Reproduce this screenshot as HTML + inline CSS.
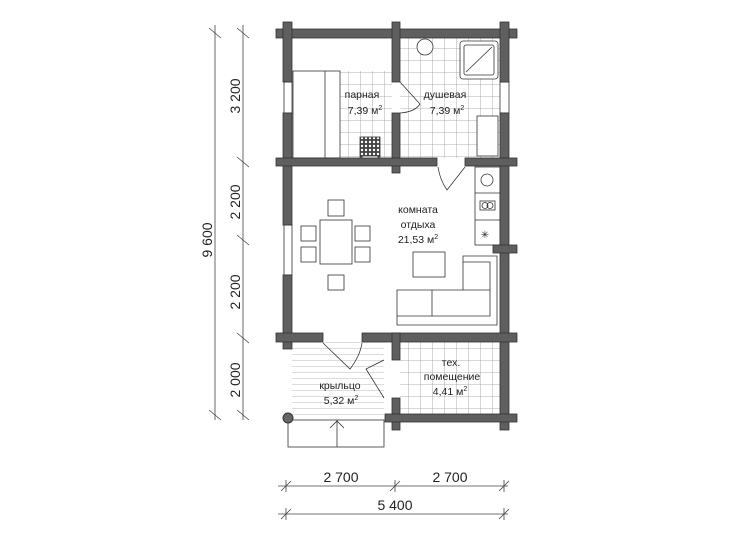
<!DOCTYPE html>
<html><head><meta charset="utf-8"><style>
html,body{margin:0;padding:0;background:#fff;width:732px;height:549px;overflow:hidden}
svg{display:block}
text{font-family:"Liberation Sans",sans-serif;fill:#222}
</style></head><body>
<svg width="732" height="549" viewBox="0 0 732 549" xmlns="http://www.w3.org/2000/svg">
<defs>
<pattern id="tile" width="12" height="12" patternUnits="userSpaceOnUse">
<rect width="12" height="12" fill="#fff"/><path d="M0 0H12M0 0V12" stroke="#999" stroke-width="0.8"/>
</pattern>
<pattern id="stripe" width="10" height="6" patternUnits="userSpaceOnUse">
<rect width="10" height="6" fill="#fff"/><path d="M0 0H10" stroke="#999" stroke-width="0.7"/>
</pattern>
<pattern id="stones" width="4" height="4" patternUnits="userSpaceOnUse">
<rect width="4" height="4" fill="#444"/><circle cx="2" cy="2" r="1.2" fill="#fff"/>
</pattern>
</defs>
<rect x="340" y="71" width="52" height="87" fill="url(#tile)"/>
<rect x="400" y="38" width="100" height="120" fill="url(#tile)"/>
<rect x="400" y="342" width="100" height="72" fill="url(#tile)"/>
<rect x="292" y="342" width="92" height="78" fill="url(#stripe)"/>
<g stroke="#333" fill="none" stroke-width="0.8">
<rect x="293" y="71" width="47" height="87" fill="#fff"/>
<line x1="325" y1="71" x2="325" y2="158"/>
<rect x="360" y="137" width="20" height="20" fill="url(#stones)"/>
<rect x="362" y="156" width="16" height="8" fill="#fff"/>
<circle cx="425" cy="47" r="8" fill="#fff"/>
<rect x="460" y="41" width="38" height="38" rx="3" fill="#fff"/>
<rect x="464" y="45" width="30" height="30" rx="2"/>
<line x1="466" y1="72" x2="492" y2="47"/>
<rect x="477" y="116" width="21" height="40" fill="#fff"/>
<path d="M400 82 L420 104 Q415 112 400 113"/>
<path d="M465 167 L447 190 Q440 180 438 167"/>
<path d="M323 343 L350 369 Q360 356 362 343"/>
<path d="M384 360 L366 369 L384 398"/>
<rect x="475" y="167" width="25" height="78" fill="#fff"/>
<line x1="475" y1="193" x2="500" y2="193"/><line x1="475" y1="220" x2="500" y2="220"/>
<circle cx="487" cy="180" r="6"/>
<rect x="480" y="201" width="15" height="9"/>
<circle cx="485" cy="205.5" r="3"/><circle cx="490" cy="205.5" r="3"/>
<rect x="320" y="220" width="32" height="44" fill="#fff"/>
<rect x="328" y="200" width="16" height="16"/>
<rect x="328" y="275" width="16" height="15"/>
<rect x="301" y="226" width="15" height="15"/><rect x="301" y="247" width="15" height="15"/>
<rect x="355" y="226" width="15" height="15"/><rect x="355" y="247" width="15" height="15"/>
<rect x="413" y="252" width="32" height="25" fill="#fff"/>
<path d="M397 290 H463 V256 H497 V325 H397 Z" fill="#fff"/>
<path d="M397 316 H490 V262 H463"/>
<line x1="432" y1="290" x2="432" y2="316"/>
<line x1="463" y1="290" x2="490" y2="290"/>
<rect x="288" y="420" width="96" height="27" fill="#fff"/>
<line x1="337" y1="420" x2="337" y2="447"/>
<path d="M330 428 L337 421 L344 428"/>
<rect x="284" y="82" width="8" height="31" fill="#fff"/>
<rect x="284" y="225" width="8" height="50" fill="#fff"/>
<rect x="500" y="82" width="9" height="31" fill="#fff"/>
</g>
<circle cx="288" cy="418" r="5" fill="#666" stroke="#333"/>
<text x="485" y="238" font-size="10" text-anchor="middle">✳</text>
<g fill="#5f5f5f" stroke="#333" stroke-width="0.8">
<rect x="276" y="29" width="241" height="9"/>
<rect x="283" y="22" width="9" height="60"/>
<rect x="283" y="113" width="9" height="112"/>
<rect x="283" y="275" width="9" height="74"/>
<rect x="392" y="22" width="8" height="60"/>
<rect x="392" y="113" width="8" height="60"/>
<rect x="500" y="22" width="9" height="60"/>
<rect x="500" y="113" width="9" height="317"/>
<rect x="276" y="158" width="161" height="8"/>
<rect x="465" y="158" width="52" height="8"/>
<rect x="493" y="245" width="24" height="8"/>
<rect x="276" y="333" width="47" height="9"/>
<rect x="362" y="333" width="155" height="9"/>
<rect x="392" y="333" width="8" height="27"/>
<rect x="392" y="398" width="8" height="32"/>
<rect x="385" y="414" width="132" height="8"/>
</g>
<g font-size="10.5" text-anchor="middle">
<text x="362" y="98">парная</text>
<text x="365" y="114">7,39 м<tspan font-size="7" dy="-4">2</tspan></text>
<text x="445" y="98">душевая</text>
<text x="447" y="114">7,39 м<tspan font-size="7" dy="-4">2</tspan></text>
<text x="418" y="213">комната</text>
<text x="418" y="228">отдыха</text>
<text x="418" y="243">21,53 м<tspan font-size="7" dy="-4">2</tspan></text>
<text x="340" y="389">крыльцо</text>
<text x="341" y="404">5,32 м<tspan font-size="7" dy="-4">2</tspan></text>
<text x="451" y="366">тех.</text>
<text x="452" y="380">помещение</text>
<text x="450" y="395">4,41 м<tspan font-size="7" dy="-4">2</tspan></text>
</g>
<g stroke="#444" stroke-width="0.8">
<line x1="215" y1="25" x2="215" y2="420"/>
<line x1="243" y1="25" x2="243" y2="420"/>
<line x1="209" y1="28" x2="221" y2="38"/><line x1="209" y1="410" x2="221" y2="420"/>
<line x1="237" y1="28" x2="249" y2="38"/><line x1="237" y1="157" x2="249" y2="167"/>
<line x1="237" y1="235" x2="249" y2="245"/><line x1="237" y1="333" x2="249" y2="343"/>
<line x1="237" y1="410" x2="249" y2="420"/>
<line x1="278" y1="486" x2="508" y2="486"/>
<line x1="278" y1="514" x2="508" y2="514"/>
<line x1="286" y1="480" x2="286" y2="492"/><line x1="281" y1="491" x2="291" y2="481"/>
<line x1="395" y1="480" x2="395" y2="492"/><line x1="390" y1="491" x2="400" y2="481"/>
<line x1="504" y1="480" x2="504" y2="492"/><line x1="499" y1="491" x2="509" y2="481"/>
<line x1="286" y1="508" x2="286" y2="520"/><line x1="281" y1="519" x2="291" y2="509"/>
<line x1="504" y1="508" x2="504" y2="520"/><line x1="499" y1="519" x2="509" y2="509"/>
</g>
<g font-size="14" text-anchor="middle">
<text transform="translate(212,240) rotate(-90)">9 600</text>
<text transform="translate(240,96) rotate(-90)">3 200</text>
<text transform="translate(240,202) rotate(-90)">2 200</text>
<text transform="translate(240,292) rotate(-90)">2 200</text>
<text transform="translate(240,380) rotate(-90)">2 000</text>
<text x="341" y="482">2 700</text>
<text x="450" y="482">2 700</text>
<text x="395" y="510">5 400</text>
</g>
</svg>
</body></html>
